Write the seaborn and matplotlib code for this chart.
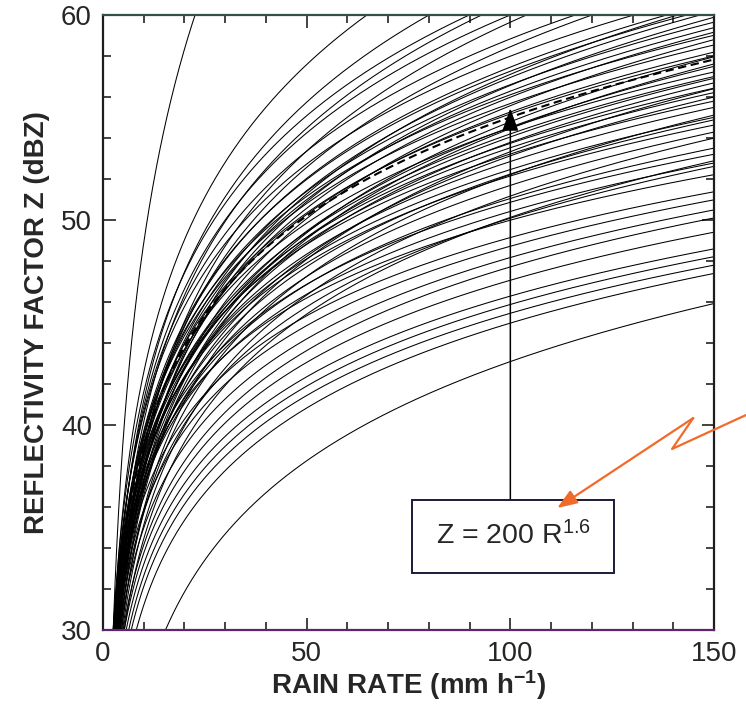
import numpy as np
import pandas as pd
import matplotlib
matplotlib.use("Agg")
import matplotlib.pyplot as plt
from matplotlib.patches import Rectangle
import seaborn as sns

# ---- data: Z = a * R^b relations (coefficients) ----
zr_a = [12.4, 55.6, 75.7, 87.5, 103, 110.7, 114.6, 151, 199.5, 239,
        229, 137, 300, 164, 247, 83.8, 192, 113.5, 207, 143.6,
        228, 75.7, 161, 212, 99.8, 158.6,
        56, 128.5, 171, 92.3, 150, 61.5, 176, 138, 68, 164.4, 106,
        121, 226, 79, 206.5, 203, 121, 80.7, 197, 129, 75.3,
        174.6, 246.6, 73.8, 166, 267, 76.7, 207.5, 69.7, 86.5, 109, 201]
zr_b = [1.608, 1.376, 1.333, 1.323, 1.308, 1.331, 1.356, 1.319, 1.286, 1.268,
        1.341, 1.436, 1.261, 1.477, 1.411, 1.649, 1.501, 1.629, 1.529, 1.624,
        1.546, 1.80, 1.66, 1.621, 1.80, 1.730,
        3.14, 2.148, 1.928, 2.05, 1.912, 2.088, 1.819, 1.803, 1.939, 1.755, 1.835,
        1.685, 1.446, 1.83, 1.395, 1.605, 1.648, 1.605, 1.529, 1.759, 1.568,
        1.589, 1.465, 1.789, 1.502, 1.33, 1.886, 1.647, 1.745, 1.954, 2.082, 1.748]
ref_a, ref_b = 200, 1.6           # Marshall-Palmer, dashed
ref_label = "Z = 200 R$^{1.6}$"
x_major = [0, 50, 100, 150]
y_major = [30, 40, 50, 60]
x_label = "RAIN RATE (mm h$^{-1}$)"
y_label = "REFLECTIVITY FACTOR Z (dBZ)"

# ---- style ----
sns.set_style("ticks")
plt.rcParams["font.family"] = ["Liberation Sans", "DejaVu Sans"]
plt.rcParams["mathtext.default"] = "regular"

rain = np.geomspace(0.3, 150, 900)
frames = []
for i, (a, b) in enumerate(zip(zr_a, zr_b)):
    frames.append(pd.DataFrame({"R": rain, "dBZ": 10 * np.log10(a * rain ** b), "rel": i}))
df = pd.concat(frames, ignore_index=True)
ref = pd.DataFrame({"R": rain, "dBZ": 10 * np.log10(ref_a * rain ** ref_b)})

fig = plt.figure(figsize=(7.46, 7.08), dpi=100)
ax = fig.add_axes([103 / 746, 1 - 630 / 708, (714 - 103) / 746, (630 - 15) / 708])

sns.lineplot(data=df, x="R", y="dBZ", units="rel", estimator=None, color="black",
             linewidth=0.75, ax=ax, legend=False)
sns.lineplot(data=ref, x="R", y="dBZ", color="black", linewidth=1.5,
             linestyle=(0, (4, 2.2)), ax=ax, legend=False)

ax.set_xlim(0, 150)
ax.set_ylim(30, 60)
ax.set_xticks(x_major)
ax.set_yticks(y_major)
ax.set_xticks(np.arange(0, 151, 10), minor=True)
ax.set_yticks(np.arange(30, 61, 2), minor=True)
ax.tick_params(which="both", direction="in", top=True, right=True,
               labelsize=20, width=1.2, color="#222222")
ax.tick_params(which="major", length=9, pad=8)
ax.tick_params(which="minor", length=6)
ax.set_xlabel(x_label, fontsize=20, fontweight="bold", labelpad=1)
ax.set_ylabel(y_label, fontsize=20, fontweight="bold", labelpad=8)

for side in ["left", "right", "top", "bottom"]:
    ax.spines[side].set_linewidth(1.6)
    ax.spines[side].set_color("#1e1e1e")
ax.spines["bottom"].set_color("#5e2270")
ax.spines["top"].set_color("#33504a")

# annotation box with arrow to the dashed curve
ax.annotate("", xy=(100, 55.45), xytext=(100, 36.34),
            arrowprops=dict(arrowstyle="-|>,head_length=1.4,head_width=0.5",
                            color="black", lw=1.1, shrinkA=0, shrinkB=0), zorder=6)
ax.add_patch(Rectangle((75.9, 32.78), 49.6, 3.56, facecolor="white",
                       edgecolor="#1a1a3a", linewidth=1.4, zorder=7))
ax.text(100.8, 34.6, ref_label, ha="center", va="center", fontsize=20.5, zorder=8)

# hand-drawn orange pointer
orange = "#f26a2a"
ax.plot([157.9, 139.7, 144.9], [40.49, 38.83, 40.34], color=orange, lw=1.6,
        clip_on=False, solid_joinstyle="round", zorder=9)
ax.annotate("", xy=(111.5, 35.95), xytext=(144.9, 40.34),
            arrowprops=dict(arrowstyle="-|>,head_length=1.2,head_width=0.45",
                            color=orange, lw=1.6, shrinkA=0, shrinkB=0),
            annotation_clip=False, zorder=9)

fig.savefig("out.png", dpi=100)
